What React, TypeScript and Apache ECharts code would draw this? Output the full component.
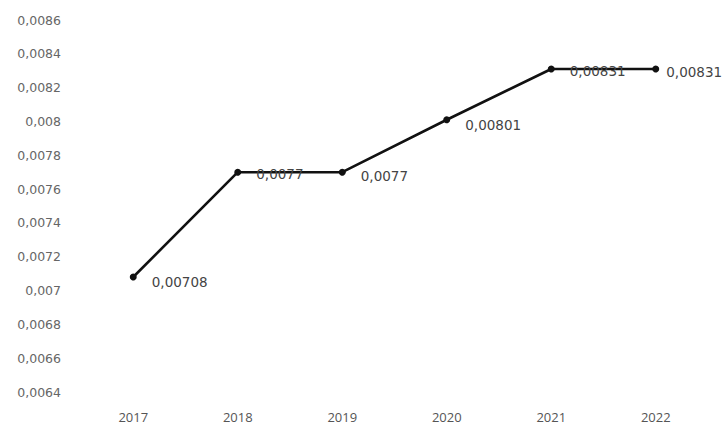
import React, { useEffect, useRef } from "react";
import * as echarts from "echarts";

const years = ["2017", "2018", "2019", "2020", "2021", "2022"];
const values = [0.00708, 0.0077, 0.0077, 0.00801, 0.00831, 0.00831];
const yMin = 0.0064;
const yMax = 0.0086;
const yStep = 0.0002;

const labelOffsets = [
  [10, 5],
  [10, 2],
  [10, 4],
  [10, 5],
  [10, 2],
  [2, 3],
];

const fmt = (v: number) => {
  let s = v.toFixed(5).replace(/0+$/, "").replace(/\.$/, "");
  return s.replace(".", ",");
};

export default function App() {
  const ref = useRef<HTMLDivElement>(null);
  useEffect(() => {
    if (!ref.current) return;
    const chart = echarts.init(ref.current, undefined, { renderer: "svg" });
    const seriesData = values.map((v, i) => ({
      value: v,
      label: { offset: labelOffsets[i] },
    }));
    chart.setOption({
      animation: false,
      backgroundColor: "#ffffff",
      grid: { left: 81, right: 18, top: 20, bottom: 36 },
      xAxis: {
        type: "category",
        data: years,
        boundaryGap: true,
        axisLine: { show: false },
        axisTick: { show: false },
        axisLabel: {
          color: "#555555",
          fontSize: 13,
          fontFamily: "Open Sans",
          margin: 18,
        },
      },
      yAxis: {
        type: "value",
        min: yMin,
        max: yMax,
        interval: yStep,
        splitLine: { show: false },
        axisLine: { show: false },
        axisTick: { show: false },
        axisLabel: {
          color: "#666666",
          fontSize: 12.5,
          fontFamily: "DejaVu Sans",
          margin: 20,
          formatter: (v: number) => fmt(Math.round(v * 10000) / 10000),
        },
      },
      series: [
        {
          type: "line",
          data: seriesData,
          lineStyle: { color: "#111111", width: 2.6 },
          itemStyle: { color: "#111111" },
          symbol: "circle",
          symbolSize: 7,
          label: {
            show: true,
            position: "right",
            color: "#444444",
            fontSize: 13.5,
            fontFamily: "DejaVu Sans",
            formatter: (p: any) => fmt(p.value),
          },
        },
      ],
    });
    return () => chart.dispose();
  }, []);
  return <div ref={ref} style={{ width: 726, height: 428, position: "absolute", left: 0, top: 0 }} />;
}
